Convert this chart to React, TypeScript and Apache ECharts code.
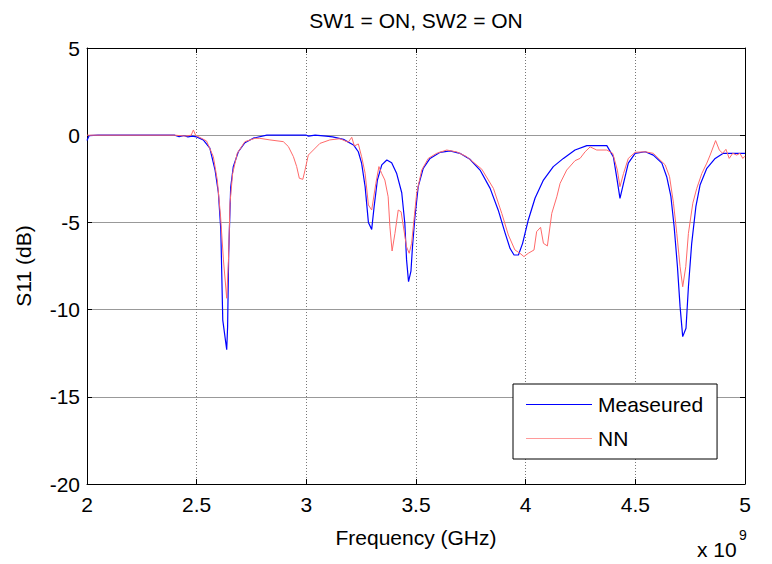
import React, { useEffect, useRef } from "react";
import * as echarts from "echarts";

const titleText = "SW1 = ON, SW2 = ON";
const seriesNames = ["Measeured", "NN"];

const measuredFreq = [
  2.0, 2.01, 2.05, 2.4, 2.42, 2.44, 2.46, 2.48, 2.5, 2.53, 2.56, 2.584, 2.599, 2.61, 2.619, 2.637, 2.641, 2.646,
  2.655, 2.667, 2.69, 2.72, 2.758, 2.82, 3.0, 3.01, 3.04, 3.09, 3.12, 3.169, 3.215, 3.237, 3.252, 3.268, 3.283,
  3.298, 3.309, 3.324, 3.344, 3.367, 3.389, 3.412, 3.435, 3.449, 3.457, 3.466, 3.477, 3.484, 3.495, 3.51, 3.533,
  3.564, 3.61, 3.655, 3.7, 3.746, 3.792, 3.838, 3.875, 3.906, 3.929, 3.947, 3.967, 3.986, 4.012, 4.043, 4.081,
  4.126, 4.172, 4.225, 4.279, 4.37, 4.4, 4.415, 4.43, 4.446, 4.468, 4.499, 4.545, 4.582, 4.621, 4.643, 4.662,
  4.677, 4.692, 4.704, 4.716, 4.731, 4.742, 4.757, 4.776, 4.795, 4.826, 4.864, 4.901, 5.0,
];
const measuredS11 = [
  -0.3, -0.02, 0, 0, -0.08, -0.02, -0.1, -0.05, -0.1, -0.27, -0.74, -2.0, -3.3, -5.4, -10.6, -12.3, -11.0, -6.8,
  -3.0, -1.8, -0.95, -0.43, -0.17, 0, 0, -0.05, 0, -0.05, -0.1, -0.24, -0.56, -0.95, -1.6, -2.95, -5.0,
  -5.4, -4.1, -2.57, -1.7, -1.42, -1.58, -2.2, -3.3, -5.05, -7.15, -8.4, -7.8, -6.4, -4.7, -2.95, -1.9,
  -1.33, -0.98, -0.9, -1.04, -1.38, -2.0, -3.05, -4.3, -5.6, -6.5, -6.87, -6.87, -6.2, -4.86, -3.6, -2.57,
  -1.8, -1.33, -0.85, -0.6, -0.6, -1.24, -2.4, -3.62, -2.76, -1.6, -1.04, -0.95, -1.14, -1.6, -2.38, -3.5,
  -5.25, -7.54, -9.83, -11.55, -11.07, -8.7, -6.2, -4.1, -2.86, -1.9, -1.33, -1.04, -1.04,
];

const nnFreq = [
  2.0, 2.4, 2.45, 2.475, 2.485, 2.495, 2.545, 2.576, 2.594, 2.609, 2.622, 2.637, 2.645, 2.652, 2.664, 2.685, 2.72,
  2.766, 2.788, 2.834, 2.895, 2.918, 2.941, 2.956, 2.968, 2.984, 2.994, 3.009, 3.032, 3.062, 3.107, 3.153, 3.191,
  3.207, 3.219, 3.237, 3.252, 3.268, 3.283, 3.298, 3.317, 3.331, 3.343, 3.358, 3.373, 3.381, 3.391, 3.404, 3.419,
  3.432, 3.445, 3.457, 3.469, 3.48, 3.492, 3.503, 3.526, 3.556, 3.594, 3.64, 3.686, 3.731, 3.8, 3.853, 3.891,
  3.921, 3.951, 3.974, 3.992, 4.012, 4.038, 4.05, 4.068, 4.081, 4.099, 4.119, 4.142, 4.157, 4.187, 4.225, 4.248,
  4.271, 4.294, 4.324, 4.37, 4.397, 4.418, 4.43, 4.446, 4.468, 4.499, 4.545, 4.582, 4.636, 4.656, 4.674, 4.689,
  4.704, 4.716, 4.73, 4.742, 4.762, 4.78, 4.803, 4.826, 4.841, 4.866, 4.883, 4.898, 4.913, 4.928, 4.944, 4.962,
  4.977, 4.99, 5.0,
];
const nnS11 = [
  0, 0, -0.05, 0, 0.3, 0, -0.33, -1.23, -2.57, -4.67, -7.15, -9.35, -7.15, -3.9, -2.2, -1.04, -0.37,
  -0.18, -0.18, -0.27, -0.37, -0.65, -1.23, -1.8, -2.47, -2.53, -2.0, -1.14, -0.85, -0.47, -0.27, -0.2, -0.4,
  -0.12, -0.62, -0.5, -1.23, -2.18, -4.0, -4.29, -2.76, -1.8, -2.18, -2.57, -3.53, -5.25, -6.64, -5.63, -4.29,
  -4.39, -5.44, -6.4, -6.77, -6.2, -4.7, -3.33, -2.0, -1.33, -1.04, -0.85, -0.96, -1.23, -1.95, -3.05, -4.48,
  -5.72, -6.58, -6.77, -6.96, -6.77, -6.58, -5.53, -5.28, -6.2, -6.35, -4.48, -3.53, -2.76, -2.0, -1.46, -1.33,
  -0.95, -0.67, -0.85, -0.85, -1.04, -2.0, -2.95, -2.2, -1.33, -0.98, -0.95, -1.04, -1.7, -2.38, -3.9, -5.63,
  -7.54, -8.69, -7.54, -5.63, -3.9, -3.05, -2.2, -1.6, -1.14, -0.31, -0.85, -1.04, -0.81, -1.33, -1.04, -1.14,
  -1.04, -1.33, -1.2,
];

const xLabel = "Frequency (GHz)";
const yLabel = "S11 (dB)";
const xMin = 2;
const xMax = 5;
const xStep = 0.5;
const yMin = -20;
const yMax = 5;
const yStep = 5;

const FONT = "'Liberation Sans', Arial, sans-serif";

export default function App() {
  const ref = useRef<HTMLDivElement>(null);

  useEffect(() => {
    if (!ref.current) return;
    const chart = echarts.init(ref.current, undefined, { renderer: "svg" });
    const zip = (xs: number[], ys: number[]) => xs.map((x, i) => [x, ys[i]]);
    const tickBase = { show: true, inside: true, length: 5, lineStyle: { color: "#000", width: 1 } };
    const lineBase = { show: true, onZero: false, lineStyle: { color: "#000", width: 1 } };

    chart.setOption({
      animation: false,
      backgroundColor: "#fff",
      textStyle: { fontFamily: FONT },
      title: {
        text: titleText,
        left: 416,
        top: 10,
        padding: 0,
        textAlign: "center",
        textStyle: { fontSize: 21, fontWeight: "normal", color: "#000", fontFamily: FONT },
      },
      grid: { left: 87, top: 48, right: 27, bottom: 80, containLabel: false },
      legend: {
        orient: "vertical",
        left: 513,
        top: 384,
        padding: [10, 14, 10, 13],
        itemGap: 13,
        itemWidth: 66,
        itemHeight: 1,
        icon: "rect",
        borderColor: "#000",
        borderWidth: 1,
        backgroundColor: "#fff",
        textStyle: { fontSize: 21, color: "#000", fontFamily: FONT, lineHeight: 21, padding: [0, 0, 0, 1] },
        data: [
          { name: seriesNames[0], itemStyle: { color: "#0000ff" } },
          { name: seriesNames[1], itemStyle: { color: "#ff9a9a" } },
        ],
      },
      xAxis: [
        {
          type: "value",
          min: xMin,
          max: xMax,
          interval: xStep,
          position: "bottom",
          axisLine: lineBase,
          axisTick: tickBase,
          axisLabel: { fontSize: 21, color: "#000", margin: 10, fontFamily: FONT, formatter: (v: number) => String(v) },
          splitLine: { show: true, lineStyle: { color: "#777", type: [1, 2], width: 1 } },
          name: xLabel,
          nameLocation: "middle",
          nameGap: 43,
          nameTextStyle: { fontSize: 21, color: "#000", fontFamily: FONT },
        },
        {
          type: "value",
          min: xMin,
          max: xMax,
          interval: xStep,
          position: "top",
          axisLine: lineBase,
          axisTick: tickBase,
          axisLabel: { show: false },
          splitLine: { show: false },
        },
      ],
      yAxis: [
        {
          type: "value",
          min: yMin,
          max: yMax,
          interval: yStep,
          position: "left",
          axisLine: lineBase,
          axisTick: tickBase,
          axisLabel: { fontSize: 21, color: "#000", margin: 7, fontFamily: FONT },
          splitLine: { show: true, lineStyle: { color: "#999", type: "solid", width: 1 } },
          name: yLabel,
          nameLocation: "middle",
          nameGap: 53,
          nameRotate: 90,
          nameTextStyle: { fontSize: 21, color: "#000", fontFamily: FONT },
        },
        {
          type: "value",
          min: yMin,
          max: yMax,
          interval: yStep,
          position: "right",
          axisLine: lineBase,
          axisTick: tickBase,
          axisLabel: { show: false },
          splitLine: { show: false },
        },
      ],
      graphic: [
        {
          type: "text",
          left: 697,
          top: 539,
          style: { text: "x 10", fontSize: 21, fill: "#000", fontFamily: FONT },
        },
        {
          type: "text",
          left: 739,
          top: 528,
          style: { text: "9", fontSize: 14, fill: "#000", fontFamily: FONT },
        },
      ],
      series: [
        {
          name: seriesNames[0],
          type: "line",
          data: zip(measuredFreq, measuredS11),
          showSymbol: false,
          symbol: "none",
          lineStyle: { color: "#0000ff", width: 1.2 },
          itemStyle: { color: "#0000ff" },
          z: 3,
        },
        {
          name: seriesNames[1],
          type: "line",
          data: zip(nnFreq, nnS11),
          showSymbol: false,
          symbol: "none",
          lineStyle: { color: "#ff6a6a", width: 1 },
          itemStyle: { color: "#ff9a9a" },
          z: 4,
        },
      ],
    });
    return () => chart.dispose();
  }, []);

  return (
    <div
      ref={ref}
      style={{ position: "fixed", left: 0, top: 0, width: 772, height: 564, background: "#fff" }}
    />
  );
}
